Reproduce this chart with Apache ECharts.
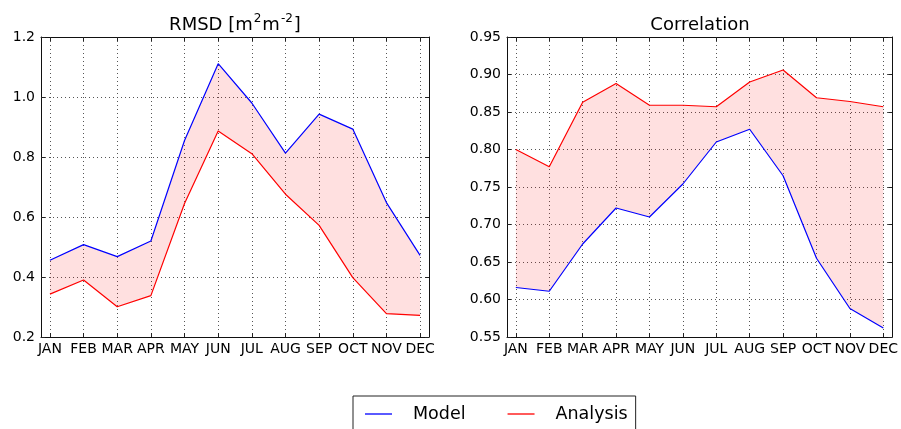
<!DOCTYPE html>
<html>
<head>
<meta charset="utf-8">
<script src="https://cdn.jsdelivr.net/npm/echarts@6/dist/echarts.min.js"></script>
<style>
html,body{margin:0;padding:0;background:#fff;}
#chart{width:901px;height:429px;}
</style>
</head>
<body>
<div id="chart"></div>
<script>
const months = ['JAN','FEB','MAR','APR','MAY','JUN','JUL','AUG','SEP','OCT','NOV','DEC'];
const rmsdModel    = [0.456,0.508,0.468,0.520,0.855,1.111,0.980,0.813,0.943,0.893,0.648,0.472];
const rmsdAnalysis = [0.343,0.390,0.301,0.338,0.645,0.887,0.811,0.676,0.572,0.398,0.278,0.272];
const corrModel    = [0.616,0.611,0.674,0.722,0.710,0.754,0.810,0.827,0.765,0.655,0.588,0.562];
const corrAnalysis = [0.800,0.777,0.863,0.888,0.859,0.859,0.857,0.890,0.906,0.869,0.864,0.857];

const FONT = 'DejaVu Sans';
const idx = months.map((m, i) => i);
const pairs = arr => arr.map((v, i) => [i, v]);

const axisLine = {show: true, onZero: false, lineStyle: {color: '#111', width: 1}};
const tick = {show: true, inside: true, length: 4, lineStyle: {color: '#222', width: 1}};
const split = {show: true, lineStyle: {color: '#555', width: 1, type: [1, 3]}};

function xAxes(gi) {
  return [
    {type: 'value', gridIndex: gi, position: 'bottom', min: -0.265, max: 11.265,
     axisLine: axisLine, axisTick: Object.assign({customValues: idx}, tick),
     axisLabel: {customValues: idx, formatter: v => months[Math.round(v)], color: '#000',
                 fontFamily: FONT, fontSize: 14, margin: 5},
     splitLine: split},
    {type: 'value', gridIndex: gi, position: 'top', min: -0.265, max: 11.265,
     axisLine: axisLine, axisTick: Object.assign({customValues: idx}, tick),
     axisLabel: {show: false}, splitLine: {show: false}}
  ];
}
function yAxes(gi, min, max, interval, dec) {
  return [
    {type: 'value', gridIndex: gi, position: 'left', min: min, max: max, interval: interval,
     axisLine: axisLine, axisTick: tick,
     axisLabel: {formatter: v => v.toFixed(dec), color: '#000', fontFamily: FONT, fontSize: 14, margin: 6},
     splitLine: split},
    {type: 'value', gridIndex: gi, position: 'right', min: min, max: max, interval: interval,
     axisLine: axisLine, axisTick: tick, axisLabel: {show: false}, splitLine: {show: false}}
  ];
}
function bandRender(params, api) {
  if (params.dataIndexInside !== 0) return null;
  const n = params.dataInsideLength;
  const pts = [];
  for (let j = 0; j < n; j++) pts.push(api.coord([api.value(0, j), api.value(1, j)]));
  for (let j = n - 1; j >= 0; j--) pts.push(api.coord([api.value(0, j), api.value(2, j)]));
  return {type: 'polygon', shape: {points: pts}, style: {fill: 'rgba(255,0,0,0.12)'}};
}
function panelSeries(ai, model, analysis) {
  return [
    {type: 'custom', name: 'band', xAxisIndex: ai, yAxisIndex: ai, silent: true, z: 1,
     data: model.map((v, i) => [i, v, analysis[i]]),
     encode: {x: 0, y: [1, 2]}, renderItem: bandRender},
    {type: 'line', name: 'Model', xAxisIndex: ai, yAxisIndex: ai, data: pairs(model),
     symbol: 'none', lineStyle: {color: '#0000ff', width: 1.2}, itemStyle: {color: '#0000ff'}, z: 3},
    {type: 'line', name: 'Analysis', xAxisIndex: ai, yAxisIndex: ai, data: pairs(analysis),
     symbol: 'none', lineStyle: {color: '#ff0000', width: 1.2}, itemStyle: {color: '#ff0000'}, z: 3}
  ];
}

const chart = echarts.init(document.getElementById('chart'), null, {renderer: 'canvas'});
chart.setOption({
  animation: false,
  backgroundColor: '#fff',
  title: [
    {text: 'RMSD [m{sup|2}m{sup|-2}]', left: 235, top: 13, textAlign: 'center', padding: 0,
     textStyle: {fontFamily: FONT, fontSize: 18, fontWeight: 'normal', color: '#000', lineHeight: 24,
       rich: {sup: {fontFamily: FONT, fontSize: 12, color: '#000', verticalAlign: 'top', lineHeight: 24, padding: [0, 1, 0, 1]}}}},
    {text: 'Correlation', left: 700, top: 13, textAlign: 'center', padding: 0,
     textStyle: {fontFamily: FONT, fontSize: 18, fontWeight: 'normal', color: '#000', lineHeight: 24}}
  ],
  legend: {
    data: [{name: 'Model', icon: 'rect'}, {name: 'Analysis', icon: 'rect'}],
    left: 353, top: 396, orient: 'horizontal',
    backgroundColor: '#fff', borderColor: '#222', borderWidth: 1, borderRadius: 0,
    padding: [9, 8, 20, 12], itemWidth: 27, itemHeight: 1.3, itemGap: 42,
    textStyle: {fontFamily: FONT, fontSize: 17.5, color: '#000', padding: [0, 0, 0, 16]}
  },
  grid: [
    {left: 41, right: 472, top: 37, bottom: 92, containLabel: false},
    {left: 507, right: 7, top: 37, bottom: 92, containLabel: false}
  ],
  xAxis: xAxes(0).concat(xAxes(1)),
  yAxis: yAxes(0, 0.2, 1.2, 0.2, 1).concat(yAxes(1, 0.55, 0.95, 0.05, 2)),
  series: panelSeries(0, rmsdModel, rmsdAnalysis).concat(panelSeries(2, corrModel, corrAnalysis))
});
</script>
</body>
</html>
